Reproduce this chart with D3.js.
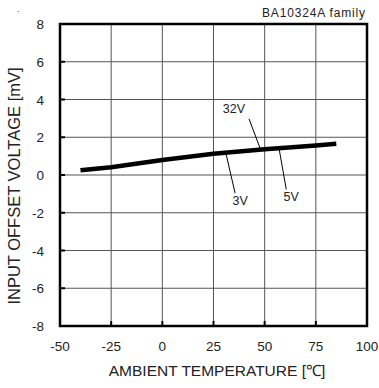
<!DOCTYPE html>
<html>
<head>
<meta charset="utf-8">
<script src="https://cdn.jsdelivr.net/npm/d3@7"></script>
<style>
  body { margin: 0; background: #fff; }
  svg text { font-family: "Liberation Sans", Arial, sans-serif; fill: #222; }
</style>
</head>
<body>
<div id="chart"></div>
<script>
// temperature (degC) vs offset voltage (mV)
const temps = [-40, -25, 0, 25, 50, 75, 85];
const offsetMv = [0.25, 0.41, 0.8, 1.12, 1.37, 1.56, 1.66];
const xTicks = [-50, -25, 0, 25, 50, 75, 100];
const yTicks = [-8, -6, -4, -2, 0, 2, 4, 6, 8];
// supply labels: [text, temp on curve, label temp, label mV]
const callouts = [
  ["32V", 48, 35, 3.3],
  ["3V", 31, 38, -1.6],
  ["5V", 57, 63, -1.4]
];

const W = 379, H = 388;
const margin = {top: 24, right: 12, bottom: 62, left: 60};

const svg = d3.select('#chart').append('svg')
    .attr('width', W)
    .attr('height', H);

const x = d3.scaleLinear().domain([-50, 100]).range([margin.left, W - margin.right]);
const y = d3.scaleLinear().domain([-8, 8]).range([H - margin.bottom, margin.top]);

// grid
svg.append('g').selectAll('line.v')
    .data(xTicks.slice(1, -1))
    .join('line')
    .attr('x1', d => x(d)).attr('x2', d => x(d))
    .attr('y1', y(8)).attr('y2', y(-8))
    .attr('stroke', '#555').attr('stroke-width', 1);
svg.append('g').selectAll('line.h')
    .data(yTicks.slice(1, -1))
    .join('line')
    .attr('x1', x(-50)).attr('x2', x(100))
    .attr('y1', d => y(d)).attr('y2', d => y(d))
    .attr('stroke', '#555').attr('stroke-width', 1);

// short ticks on inner side
svg.append('g').selectAll('line')
    .data(yTicks.slice(1, -1))
    .join('line')
    .attr('x1', x(-50)).attr('x2', x(-50) + 5)
    .attr('y1', d => y(d)).attr('y2', d => y(d))
    .attr('stroke', '#000').attr('stroke-width', 2);
svg.append('g').selectAll('line')
    .data(xTicks.slice(1, -1))
    .join('line')
    .attr('x1', d => x(d)).attr('x2', d => x(d))
    .attr('y1', y(-8)).attr('y2', y(-8) - 5)
    .attr('stroke', '#000').attr('stroke-width', 2);

// frame
svg.append('rect')
    .attr('x', x(-50)).attr('y', y(8))
    .attr('width', x(100) - x(-50)).attr('height', y(-8) - y(8))
    .attr('fill', 'none').attr('stroke', '#000').attr('stroke-width', 2.5);

// tick labels
svg.append('g').selectAll('text')
    .data(yTicks)
    .join('text')
    .attr('x', x(-50) - 16)
    .attr('y', d => y(d) + 5)
    .attr('text-anchor', 'end')
    .attr('font-size', 13.5)
    .text(d => d);
svg.append('g').selectAll('text')
    .data(xTicks)
    .join('text')
    .attr('x', d => x(d))
    .attr('y', y(-8) + 25)
    .attr('text-anchor', 'middle')
    .attr('font-size', 13.5)
    .text(d => d);

// axis titles
svg.append('text')
    .attr('x', 217)
    .attr('y', 376)
    .attr('text-anchor', 'middle')
    .attr('font-size', 15.5)
    .text('AMBIENT TEMPERATURE [℃]');
svg.append('text')
    .attr('transform', 'translate(20,186) rotate(-90)')
    .attr('text-anchor', 'middle')
    .attr('font-size', 16.5)
    .text('INPUT OFFSET VOLTAGE [mV]');

svg.append('text')
    .attr('x', 365).attr('y', 17)
    .attr('text-anchor', 'end')
    .attr('font-size', 12)
    .attr('textLength', 103)
    .text('BA10324A  family');
svg.append('text')
    .attr('x', 17).attr('y', 12)
    .attr('font-size', 9)
    .text('.');

// curve
const line = d3.line().x((d, i) => x(temps[i])).y(d => y(d));
svg.append('path')
    .datum(offsetMv)
    .attr('d', line)
    .attr('fill', 'none')
    .attr('stroke', '#000')
    .attr('stroke-width', 4.5);

// callouts
const curveAt = t => y(d3.scaleLinear().domain(temps).range(offsetMv)(t));
callouts.forEach(c => {
  const lx = x(c[2]), ly = y(c[3]);
  const above = c[3] > 1.5;
  svg.append('line')
    .attr('x1', x(c[1])).attr('y1', curveAt(c[1]))
    .attr('x2', above ? lx + 15 : lx - 5)
    .attr('y2', above ? ly + 6 : ly - 12)
    .attr('stroke', '#000').attr('stroke-width', 1);
  svg.append('text')
    .attr('x', lx).attr('y', ly)
    .attr('text-anchor', 'middle')
    .attr('font-size', 12.5)
    .text(c[0]);
});
</script>
</body>
</html>
